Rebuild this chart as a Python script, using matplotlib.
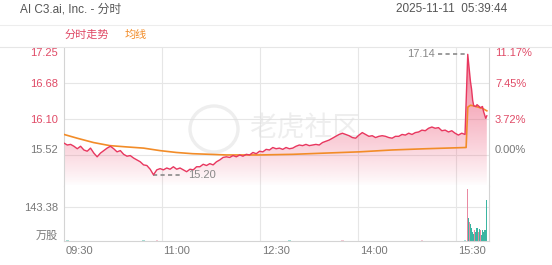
import numpy as np
import matplotlib
matplotlib.use("Agg")
import matplotlib.pyplot as plt
from matplotlib.patches import Ellipse, PathPatch
from matplotlib.lines import Line2D
from matplotlib.colors import to_rgb
import matplotlib.transforms as mtransforms

plt.rcParams['font.family'] = ['Liberation Sans', 'Noto Sans CJK SC', 'DejaVu Sans']

# ---------------- data ----------------
title = "AI C3.ai, Inc. - 分时"
timestamp = "2025-11-11  05:39:44"
legend_labels = ["分时走势", "均线"]
watermark = "老虎社区"

prev_close = 15.52
price_ticks = [17.25, 16.68, 16.10, 15.52]
pct_labels = ["11.17%", "7.45%", "3.72%", "0.00%"]
vol_tick = 143.38
vol_tick_label = "143.38"
vol_unit = "万股"
time_ticks = [0, 90, 180, 270, 360]
time_labels = ["09:30", "11:00", "12:30", "14:00", "15:30"]

day_price = [
    15.71, 15.68, 15.69, 15.66, 15.62, 15.66, 15.60, 15.58, 15.63, 15.55,
    15.49, 15.55, 15.59, 15.63, 15.66, 15.62, 15.57, 15.59, 15.53, 15.50,
    15.51, 15.47, 15.44, 15.41, 15.36, 15.35, 15.29, 15.20, 15.28, 15.30,
    15.28, 15.31, 15.29, 15.33, 15.29, 15.31, 15.28, 15.25, 15.29, 15.28,
    15.33, 15.33, 15.37, 15.35, 15.38, 15.36, 15.41, 15.44, 15.48, 15.49,
    15.48, 15.51, 15.49, 15.52, 15.50, 15.53, 15.52, 15.56, 15.54, 15.58,
    15.57, 15.61, 15.60, 15.64, 15.62, 15.63, 15.61, 15.64, 15.62, 15.63,
    15.66, 15.68, 15.67, 15.69, 15.67, 15.68, 15.69, 15.68, 15.72, 15.74,
    15.76, 15.79, 15.82, 15.85, 15.87, 15.85, 15.83, 15.80, 15.79, 15.84,
    15.88, 15.85, 15.82, 15.83, 15.80, 15.82, 15.83, 15.82, 15.80, 15.79,
    15.82, 15.82, 15.85, 15.84, 15.87, 15.85, 15.88, 15.89, 15.92, 15.91,
    15.95, 15.97, 15.95, 15.96, 15.91, 15.92, 15.89, 15.91, 15.87, 15.84,
    15.87, 15.85,
]
day_minutes = np.linspace(0, 368, len(day_price))

late_minutes = [370.5, 373, 374, 375, 376, 378, 379, 381, 382, 384, 385, 387, 388]
late_price = [17.14, 16.70, 16.58, 16.40, 16.31, 16.30, 16.33, 16.30, 16.28, 16.30, 16.22, 16.11, 16.15]

avg_minutes = [0, 12, 27, 42, 57, 73, 88, 103, 118, 134, 149, 180, 210, 240, 271, 301, 332, 369,
               370.5, 373, 376, 380, 384, 388]
avg_price = [15.85, 15.79, 15.72, 15.67, 15.65, 15.63, 15.59, 15.56, 15.54, 15.53, 15.52, 15.52,
             15.53, 15.55, 15.57, 15.60, 15.62, 15.64, 16.29, 16.32, 16.31, 16.29, 16.27, 16.23]

day_volume = [
    4, 3, 2, 2, 1, 2, 1, 1, 2, 1,
    1, 2, 1, 1, 2, 1, 1, 1, 2, 2,
    1, 1, 2, 2, 3, 2, 1, 2, 3, 2,
    1, 1, 2, 1, 1, 1, 2, 1, 1, 1,
    1, 1, 1, 2, 1, 1, 2, 1, 1, 1,
    1, 1, 1, 1, 1, 2, 1, 1, 1, 1,
    1, 1, 1, 2, 1, 1, 1, 1, 5, 1,
    1, 1, 1, 1, 1, 1, 1, 2, 1, 1,
    1, 1, 2, 1, 4, 1, 1, 1, 1, 1,
    1, 1, 1, 1, 1, 1, 1, 1, 1, 1,
    1, 2, 1, 1, 1, 1, 1, 1, 5, 1,
    1, 1, 1, 1, 1, 1, 1, 2, 1, 1,
    2, 3,
]
late_vol_minutes = list(range(370, 389))
late_volume = [219, 97, 80, 70, 55, 38, 30, 45, 38, 55, 40, 50, 45, 25, 48, 40, 45, 48, 173]
late_vol_up = [1, 0, 1, 0, 0, 0, 0, 1, 0, 0, 1, 0, 1, 0, 0, 0, 0, 0, 0]

high_price = 17.14
low_price = 15.20

# ---------------- style ----------------
RED = '#e8375f'
RED_TXT = '#e04a66'
ORANGE = '#f28c28'
GRAY_TXT = '#777777'
GRID = '#e6e6e6'
VOL_UP = '#e98aa2'
VOL_DN = '#3bb5a2'

W, H = 552, 265
fig = plt.figure(figsize=(W / 100, H / 100), dpi=100)

def fx(px):
    return px / W

def fy(py):
    return 1 - py / H

L, R = 64, 489
P_TOP, P_BOT, V_BOT = 47.5, 186, 241
ax = fig.add_axes([fx(L), fy(P_BOT), fx(R - L), (P_BOT - P_TOP) / H])
axv = fig.add_axes([fx(L), fy(V_BOT), fx(R - L), (V_BOT - P_BOT) / H])

y_lo, y_hi = 15.02, price_ticks[0]
v_hi = vol_tick * (V_BOT - P_BOT) / (V_BOT - 207)

for a in (ax, axv):
    a.set_xlim(0, 390)
    a.set_xticks([])
    a.set_yticks([])
    for s in ('top', 'bottom'):
        a.spines[s].set_visible(False)
    for s in ('left', 'right'):
        a.spines[s].set_color('#d4d4d4')
        a.spines[s].set_linewidth(0.8)
    for t in time_ticks[1:]:
        a.axvline(t, color=GRID, lw=0.8, zorder=0)
axv.spines['bottom'].set_visible(True)
axv.spines['bottom'].set_color('#d4d4d4')
axv.spines['bottom'].set_linewidth(0.8)

ax.set_ylim(y_lo, y_hi)
axv.set_ylim(0, v_hi)

for v in price_ticks[1:]:
    ax.axhline(v, color=GRID, lw=0.8, zorder=0)
axv.axhline(vol_tick, color=GRID, lw=0.8, zorder=0)

# price series
t_all = np.concatenate([day_minutes, late_minutes])
p_all = np.concatenate([day_price, late_price])

poly = ax.fill_between(t_all, p_all, y_lo, facecolor='none', edgecolor='none')
patch = PathPatch(poly.get_paths()[0], transform=ax.transData, facecolor='none', edgecolor='none')
ax.add_patch(patch)
grad = np.linspace(0, 1, 256)
rgba = np.zeros((256, 1, 4))
rgba[..., :3] = to_rgb('#ec4d70')
rgba[:, 0, 3] = 0.72 * grad ** 0.85
im = ax.imshow(rgba, extent=[0, 390, y_lo, y_hi], origin='lower', aspect='auto', zorder=1)
im.set_clip_path(patch)
ax.set_xlim(0, 390)
ax.set_ylim(y_lo, y_hi)

ax.plot(t_all, p_all, color=RED, lw=1.0, zorder=4)
ax.plot(avg_minutes, avg_price, color=ORANGE, lw=1.2, zorder=3)

# high / low markers
i_hi = int(np.argmax(p_all))
i_lo = int(np.argmin(p_all))
t_hi, t_lo = t_all[i_hi], t_all[i_lo]
ax.plot([t_hi - 27, t_hi], [high_price, high_price], color='#8a8a8a', lw=1.2,
        linestyle=(0, (2.5, 2)), zorder=3)
ax.text(t_hi - 30.5, high_price, f"{high_price:.2f}", ha='right', va='center',
        fontsize=8, color='#888888', zorder=5)
ax.plot([t_lo, t_lo + 27], [low_price, low_price], color='#8a8a8a', lw=1.2,
        linestyle=(0, (2.5, 2)), zorder=3)
ax.text(t_lo + 32, low_price, f"{low_price:.2f}", ha='left', va='center',
        fontsize=8, color='#888888', zorder=5)

# watermark
ax.text(fx(305), fy(128), watermark, transform=fig.transFigure, ha='center', va='center',
        fontsize=20, color='#dedede', alpha=0.5, family=['Noto Sans CJK SC'], zorder=2)
ax.add_artist(Ellipse((fx(214), fy(129)), 48 / W, 46 / H, transform=fig.transFigure,
                      facecolor='none', edgecolor='#e0e0e0', lw=2.4, alpha=0.55, zorder=2))

# volume bars
day_colors = [VOL_UP if i == 0 or day_price[i] >= day_price[i - 1] else VOL_DN
              for i in range(len(day_price))]
axv.bar(day_minutes, day_volume, width=2.2, color=day_colors, alpha=0.45, zorder=2)
late_colors = [VOL_UP if u else VOL_DN for u in late_vol_up]
axv.bar(late_vol_minutes, late_volume, width=1.0, color=late_colors, zorder=2)

# y labels
lt = mtransforms.blended_transform_factory(ax.transAxes, ax.transData)
for i, (v, pl) in enumerate(zip(price_ticks, pct_labels)):
    col = GRAY_TXT if i == len(price_ticks) - 1 else RED_TXT
    va = 'top' if i == 0 else ('bottom' if i == len(price_ticks) - 1 else 'center_baseline')
    ax.text(-0.014, v, f"{v:.2f}", transform=lt, ha='right', va=va, fontsize=8, color=col, clip_on=False)
    ax.text(1.014, v, pl, transform=lt, ha='left', va=va, fontsize=8, color=col, clip_on=False)

lv = mtransforms.blended_transform_factory(axv.transAxes, axv.transData)
axv.text(-0.014, vol_tick, vol_tick_label, transform=lv, ha='right', va='center_baseline',
         fontsize=8, color=GRAY_TXT)
axv.text(-0.014, 0, vol_unit, transform=lv, ha='right', va='bottom', fontsize=8, color=GRAY_TXT)

# x labels
xt = mtransforms.blended_transform_factory(axv.transData, axv.transAxes)
off = mtransforms.ScaledTranslation(1.5 / 100, -5 / 100, fig.dpi_scale_trans)
for t, lab in zip(time_ticks, time_labels):
    axv.text(t, 0, lab, transform=xt + off, ha='left', va='top', fontsize=8, color=GRAY_TXT)

# header
fig.text(fx(20), fy(9), title, ha='left', va='center', fontsize=8.5, color='#555555')
fig.text(fx(507), fy(9), timestamp, ha='right', va='center', fontsize=8.5, color='#555555')
fig.add_artist(Line2D([0, 1], [fy(25), fy(25)], transform=fig.transFigure, color='#ededed', lw=0.8))
fig.add_artist(Line2D([0, 1], [fy(46.5), fy(46.5)], transform=fig.transFigure, color='#e6e6e6', lw=0.8))
fig.text(fx(65), fy(35), legend_labels[0], ha='left', va='center', fontsize=8, color=RED_TXT)
fig.text(fx(125), fy(35), legend_labels[1], ha='left', va='center', fontsize=8, color=ORANGE)

fig.savefig("out.png", dpi=100)
